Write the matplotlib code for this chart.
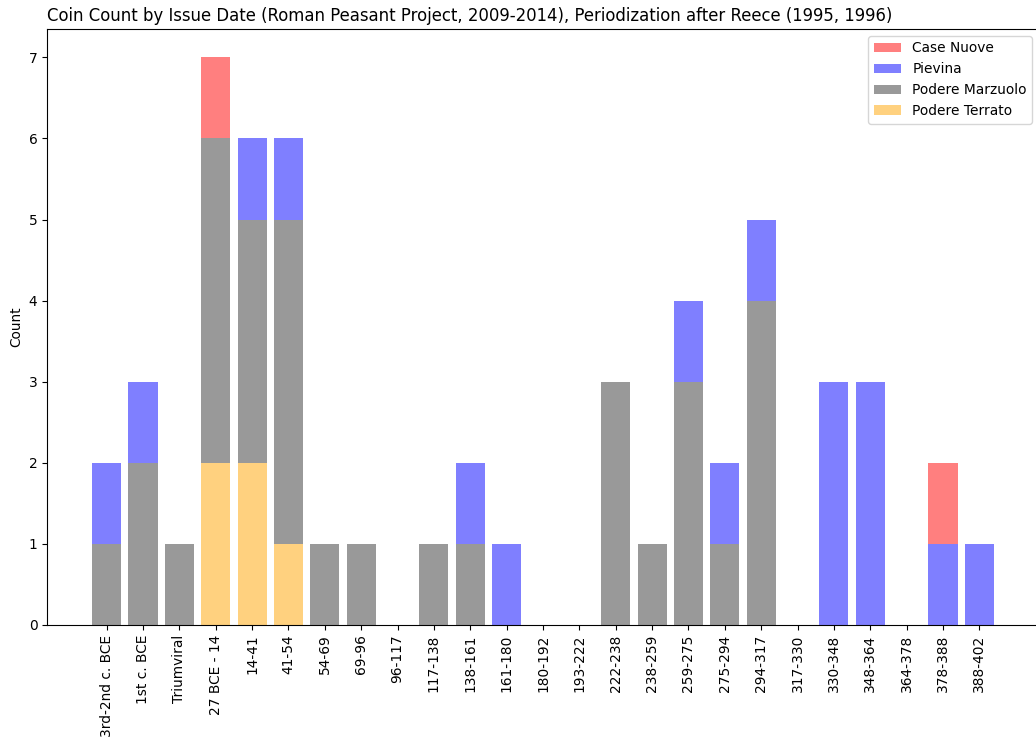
import matplotlib
matplotlib.use("Agg")
import matplotlib.pyplot as plt
import numpy as np

periods = ["3rd-2nd c. BCE", "1st c. BCE", "Triumviral", "27 BCE - 14", "14-41", "41-54",
           "54-69", "69-96", "96-117", "117-138", "138-161", "161-180", "180-192",
           "193-222", "222-238", "238-259", "259-275", "275-294", "294-317", "317-330",
           "330-348", "348-364", "364-378", "378-388", "388-402"]

podere_terrato = [0, 0, 0, 2, 2, 1, 0, 0, 0, 0, 0, 0, 0, 0, 0, 0, 0, 0, 0, 0, 0, 0, 0, 0, 0]
podere_marzuolo = [1, 2, 1, 4, 3, 4, 1, 1, 0, 1, 1, 0, 0, 0, 3, 1, 3, 1, 4, 0, 0, 0, 0, 0, 0]
pievina = [1, 1, 0, 0, 1, 1, 0, 0, 0, 0, 1, 1, 0, 0, 0, 0, 1, 1, 1, 0, 3, 3, 0, 1, 1]
case_nuove = [0, 0, 0, 1, 0, 0, 0, 0, 0, 0, 0, 0, 0, 0, 0, 0, 0, 0, 0, 0, 0, 0, 0, 1, 0]

W, H = 1036, 738
DPI = 99
fig = plt.figure(figsize=(W / DPI, H / DPI), dpi=DPI)
ax = fig.add_axes([47 / W, (H - 625) / H, (1039 - 47) / W, (625 - 29) / H])

x = np.arange(len(periods))
b0 = np.zeros(len(periods))
series = [
    ("Podere Terrato", podere_terrato, "orange", 0.5),
    ("Podere Marzuolo", podere_marzuolo, "black", 0.4),
    ("Pievina", pievina, "blue", 0.5),
    ("Case Nuove", case_nuove, "red", 0.5),
]
handles = {}
for name, vals, col, a in series:
    v = np.array(vals, dtype=float)
    h = ax.bar(x, v, bottom=b0, color=col, alpha=a, label=name, width=0.8)
    handles[name] = h
    b0 = b0 + v

ax.set_xticks(x)
ax.set_xticklabels(periods, rotation=90, fontsize=10)
ax.tick_params(axis="y", labelsize=10)
ax.set_ylabel("Count", fontsize=10)
ax.set_title("Coin Count by Issue Date (Roman Peasant Project, 2009-2014), Periodization after Reece (1995, 1996)",
             loc="left", fontsize=12)
order = ["Case Nuove", "Pievina", "Podere Marzuolo", "Podere Terrato"]
ax.legend([handles[n] for n in order], order, loc="upper right", fontsize=10)

fig.savefig("out.png", dpi=DPI)
